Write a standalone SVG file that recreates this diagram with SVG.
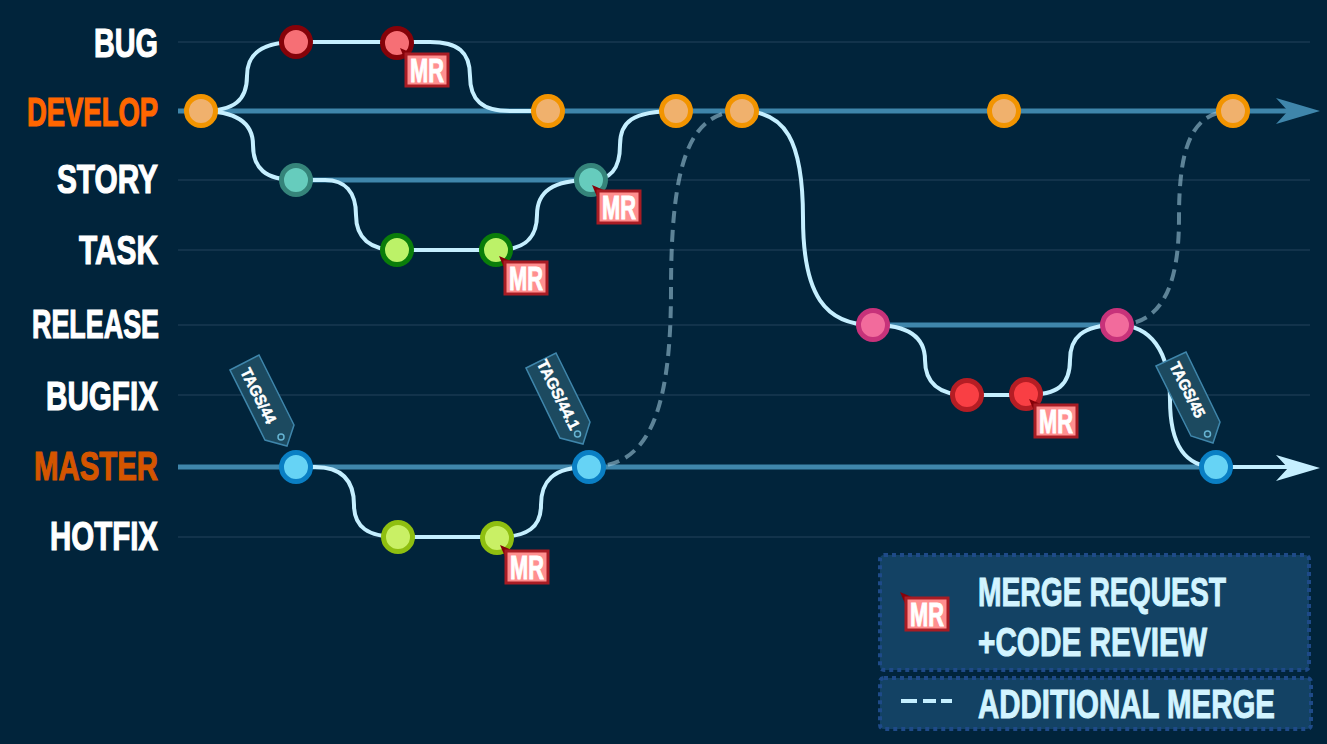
<svg xmlns="http://www.w3.org/2000/svg" width="1327" height="744" viewBox="0 0 1327 744">
<style>
text{font-family:"Liberation Sans",Arial,sans-serif;font-weight:700}
.guide{stroke:#12334b;stroke-width:2;fill:none}
.trunk{stroke:#3f86ab;stroke-width:5;fill:none}
.flow{stroke:#c5efff;stroke-width:4;fill:none}
.dash{stroke:#a9d2e4;stroke-opacity:.55;stroke-width:4;fill:none;stroke-dasharray:12 7}
.label{font-size:41px;fill:#fff;stroke:#fff;stroke-width:1.2}
.dev{fill:#ff6600;stroke:#ff6600}
.mas{fill:#d45500;stroke:#d45500}
.n{stroke-width:5}
.orange{fill:#f0b16d;stroke:#f29400}
.red{fill:#f66f75;stroke:#850209}
.teal{fill:#66ccbd;stroke:#35847a}
.green{fill:#bcf268;stroke:#0a7d0a}
.pink{fill:#f26b9c;stroke:#c7327a}
.bright{fill:#f93f44;stroke:#b51d24}
.blue{fill:#66d3f5;stroke:#0a7fc4}
.lime{fill:#c9f065;stroke:#8fbf10}
.tagbox{fill:#1c4a60;stroke:#3f86ab;stroke-width:1.5}
.hole{fill:none;stroke:#66b4d2;stroke-width:1.5}
.tagtext{font-size:16px;fill:#fff;stroke:#fff;stroke-width:.5;text-anchor:middle}
.mrbox{fill:#ff8f8f;stroke:#a81c24;stroke-width:3}
.mrtail{fill:#850209}
.mrtext{font-size:34px;fill:#fff;stroke:#fff;stroke-width:1}
.panel{fill:#134264;stroke:#1e4a88;stroke-width:4;stroke-dasharray:4 4}
.legend{font-size:41px;fill:#d2f4ff;stroke:#d2f4ff;stroke-width:1}
</style>
<defs>
<g id="mr">
<path class="mrtail" d="M-6,-6 L8,0 L0,8 Z"/>
<rect class="mrbox" x="0" y="0" width="42" height="32"/>
<text class="mrtext" x="4" y="28" textLength="34" lengthAdjust="spacingAndGlyphs">MR</text>
</g>
</defs>
<rect width="1327" height="744" fill="#01243b"/>
<g id="guides">
<path class="guide" d="M178 42H1310M178 180H1310M178 250H1310M178 325H1310M178 395H1310M178 537H1310"/>
</g>
<g id="connectors">
<path class="trunk" d="M178 111H1290"/>
<path class="trunk" d="M178 467H1216"/>
<path class="trunk" d="M296 180H591"/>
<path class="trunk" d="M873 325H1117"/>
<path fill="#3f86ab" d="M1320 111L1276 98L1288 111L1276 124Z"/>
<path class="dash" d="M589 467C645 467 671 420 671 290C671 160 690 111 742 111"/>
<path class="dash" d="M1117 325C1165 325 1179 280 1179 218C1179 150 1190 111 1233 111"/>
<path class="flow" d="M201 111C235 111 247 100 247 76C247 55 260 42 296 42H430C458 42 470 52 470 76C470 100 482 111 510 111H548"/>
<path class="flow" d="M201 111C235 111 253 122 253 145C253 168 265 180 296 180H325C345 180 356 192 356 215C356 238 370 250 397 250H496C525 250 537 238 537 215C537 192 552 180 591 180C610 180 620 170 620 145C620 122 632 111 676 111"/>
<path class="flow" d="M742 111C785 111 803 140 803 218C803 295 825 325 873 325C912 325 925 340 925 360C925 382 938 395 967 395H1026C1058 395 1070 385 1070 360C1070 338 1082 325 1117 325C1150 325 1170 350 1170 400C1170 445 1185 467 1216 467H1290"/>
<path class="flow" d="M296 467H315C343 467 354 482 354 505C354 527 368 537 398 537H497C528 537 541 527 541 505C541 482 552 467 589 467"/>
<path fill="#c5efff" d="M1320 468L1276 455L1288 468L1276 481Z"/>
</g>
<g id="labels">
<text class="label" x="94" y="57" textLength="64" lengthAdjust="spacingAndGlyphs">BUG</text>
<text class="label dev" x="27" y="126" textLength="131" lengthAdjust="spacingAndGlyphs">DEVELOP</text>
<text class="label" x="57" y="193" textLength="101" lengthAdjust="spacingAndGlyphs">STORY</text>
<text class="label" x="79" y="264" textLength="79" lengthAdjust="spacingAndGlyphs">TASK</text>
<text class="label" x="32" y="338" textLength="127" lengthAdjust="spacingAndGlyphs">RELEASE</text>
<text class="label" x="46" y="410" textLength="112" lengthAdjust="spacingAndGlyphs">BUGFIX</text>
<text class="label mas" x="34" y="480" textLength="124" lengthAdjust="spacingAndGlyphs">MASTER</text>
<text class="label" x="50" y="550" textLength="108" lengthAdjust="spacingAndGlyphs">HOTFIX</text>
</g>
<g id="node-develop-1"><circle class="n orange" cx="201" cy="111" r="14.5"/></g>
<g id="node-develop-2"><circle class="n orange" cx="548" cy="111" r="14.5"/></g>
<g id="node-develop-3"><circle class="n orange" cx="676" cy="111" r="14.5"/></g>
<g id="node-develop-4"><circle class="n orange" cx="742" cy="111" r="14.5"/></g>
<g id="node-develop-5"><circle class="n orange" cx="1004" cy="111" r="14.5"/></g>
<g id="node-develop-6"><circle class="n orange" cx="1233" cy="111" r="14.5"/></g>
<g id="node-bug-1"><circle class="n red" cx="296" cy="42" r="14.5"/></g>
<g id="node-bug-2"><circle class="n red" cx="397" cy="43" r="14.5"/></g>
<g id="node-story-1"><circle class="n teal" cx="296" cy="180" r="14.5"/></g>
<g id="node-story-2"><circle class="n teal" cx="591" cy="180" r="14.5"/></g>
<g id="node-task-1"><circle class="n green" cx="397" cy="250" r="14.5"/></g>
<g id="node-task-2"><circle class="n green" cx="496" cy="250" r="14.5"/></g>
<g id="node-release-1"><circle class="n pink" cx="873" cy="325" r="14.5"/></g>
<g id="node-release-2"><circle class="n pink" cx="1117" cy="325" r="14.5"/></g>
<g id="node-bugfix-1"><circle class="n bright" cx="967" cy="395" r="14.5"/></g>
<g id="node-bugfix-2"><circle class="n bright" cx="1026" cy="394" r="14.5"/></g>
<g id="node-master-1"><circle class="n blue" cx="296" cy="467" r="14.5"/></g>
<g id="node-master-2"><circle class="n blue" cx="589" cy="467" r="14.5"/></g>
<g id="node-master-3"><circle class="n blue" cx="1216" cy="467" r="14.5"/></g>
<g id="node-hotfix-1"><circle class="n lime" cx="398" cy="537" r="14.5"/></g>
<g id="node-hotfix-2"><circle class="n lime" cx="497" cy="538" r="14.5"/></g>
<g id="mr-bug"><use href="#mr" x="406" y="54"/></g>
<g id="mr-story"><use href="#mr" x="598" y="191"/></g>
<g id="mr-task"><use href="#mr" x="505" y="262"/></g>
<g id="mr-hotfix"><use href="#mr" x="506" y="551"/></g>
<g id="mr-bugfix"><use href="#mr" x="1035" y="405"/></g>
<g id="tag-44">
<path class="tagbox" d="M230 370L259 355L294 425L287 446L265 440Z"/>
<circle class="hole" cx="281" cy="437" r="3"/>
<text class="tagtext" transform="translate(258 396) rotate(63.4) translate(0 5)" textLength="60" lengthAdjust="spacingAndGlyphs">TAGS/44</text>
</g>
<g id="tag-44-1">
<path class="tagbox" d="M526 368L556 353L590 422L583 444L560 438Z"/>
<circle class="hole" cx="577.5" cy="434" r="3"/>
<text class="tagtext" transform="translate(558 395) rotate(63.4) translate(0 5)" textLength="76" lengthAdjust="spacingAndGlyphs">TAGS/44.1</text>
</g>
<g id="tag-45">
<path class="tagbox" d="M1156 366L1186 352L1220 422L1213 443L1191 436Z"/>
<circle class="hole" cx="1207.5" cy="434" r="3"/>
<text class="tagtext" transform="translate(1187 390) rotate(63.4) translate(0 5)" textLength="60" lengthAdjust="spacingAndGlyphs">TAGS/45</text>
</g>
<g id="legend-merge-request">
<rect class="panel" x="880" y="555" width="429" height="115" rx="4"/>
<use href="#mr" x="906" y="598"/>
<text class="legend" x="978" y="606" textLength="248" lengthAdjust="spacingAndGlyphs">MERGE REQUEST</text>
<text class="legend" x="978" y="656" textLength="229" lengthAdjust="spacingAndGlyphs">+CODE REVIEW</text>
</g>
<g id="legend-additional-merge">
<rect class="panel" x="880" y="678" width="431" height="51" rx="4"/>
<path d="M901 701H917M923 701H936M941 701H952" stroke="#c5efff" stroke-width="4" fill="none"/>
<text class="legend" x="978" y="718" textLength="297" lengthAdjust="spacingAndGlyphs">ADDITIONAL MERGE</text>
</g>
</svg>
